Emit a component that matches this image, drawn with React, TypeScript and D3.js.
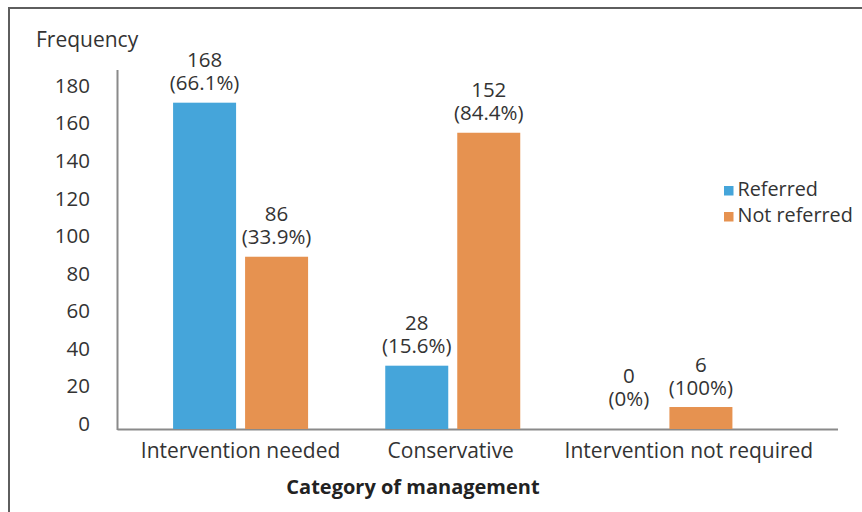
import React from "react";
import * as d3 from "d3";

const categories = ["Intervention needed", "Conservative", "Intervention not required"];
const seriesNames = ["Referred", "Not referred"];
const referred = [168, 28, 0];
const notReferred = [86, 152, 6];
const referredPct = ["66.1%", "15.6%", "0%"];
const notReferredPct = ["33.9%", "84.4%", "100%"];
const yTicks = [0, 20, 40, 60, 80, 100, 120, 140, 160, 180];
const colors = ["#45A5DA", "#E69250"];

const W = 862;
const H = 512;
const FONT = "'Open Sans', sans-serif";

export default function App() {
  const y = d3.scaleLinear().domain([-5.7, 185.4]).range([429, 70]);
  const x = d3.scaleBand<string>().domain(categories).range([134.5, 771]).paddingInner(0).paddingOuter(0);
  const inner = d3.scaleBand<string>().domain(seriesNames).range([-67.5, 67.5]).paddingInner(0.125).paddingOuter(0);
  const series = [
    { name: seriesNames[0], values: referred, pct: referredPct, color: colors[0] },
    { name: seriesNames[1], values: notReferred, pct: notReferredPct, color: colors[1] },
  ];
  const labelNudge = [0, -2, 24];
  const axisX0 = 117.5;
  const axisX1 = 838;
  const textColor = "#333";

  return (
    <svg width={W} height={H} style={{ position: "absolute", left: 0, top: 0, background: "#fff" }} fontFamily={FONT}>
      <path d={`M9,${H} V8 H${W}`} fill="none" stroke="#5e5e5e" strokeWidth={2} />
      <text x={36} y={39} dominantBaseline="central" fontSize={21} fill={textColor}>Frequency</text>
      <line x1={axisX0} x2={axisX0} y1={70} y2={430} stroke="#8a8a8a" strokeWidth={2} />
      <line x1={axisX0} x2={axisX1} y1={429.5} y2={429.5} stroke="#8a8a8a" strokeWidth={2} />
      {yTicks.map((t) => (
        <text key={t} x={90} y={y(t) + 4.7} textAnchor="end" dominantBaseline="central" fontSize={20.5} fill={textColor}>
          {t}
        </text>
      ))}
      {categories.map((c, i) => {
        const cx = (x(c) as number) + x.bandwidth() / 2;
        return (
          <g key={c}>
            {series.map((s) => {
              const bx = cx + (inner(s.name) as number);
              const bw = inner.bandwidth();
              const v = s.values[i];
              const top = y(v);
              const lx = bx + bw / 2;
              return (
                <g key={s.name}>
                  {v > 0 && <rect x={bx} y={top} width={bw} height={y(-5.7) - top} fill={s.color} />}
                  <text x={lx} y={top - 35.5} textAnchor="middle" fontSize={20.5} fill={textColor}>
                    <tspan x={lx}>{v}</tspan>
                    <tspan x={lx} dy={23}>({s.pct[i]})</tspan>
                  </text>
                </g>
              );
            })}
            <text x={cx + labelNudge[i]} y={450} textAnchor="middle" dominantBaseline="central" fontSize={21} fill={textColor}>
              {c}
            </text>
          </g>
        );
      })}
      <text x={413} y={486} textAnchor="middle" dominantBaseline="central" fontSize={20} fontWeight="bold" fill="#222">
        Category of management
      </text>
      {series.map((s, i) => (
        <g key={s.name} transform={`translate(724, ${190.5 + i * 26})`}>
          <rect x={0} y={-4.5} width={9.5} height={9.5} fill={s.color} />
          <text x={13.5} y={-2} dominantBaseline="central" fontSize={19.8} fill={textColor}>{s.name}</text>
        </g>
      ))}
    </svg>
  );
}
